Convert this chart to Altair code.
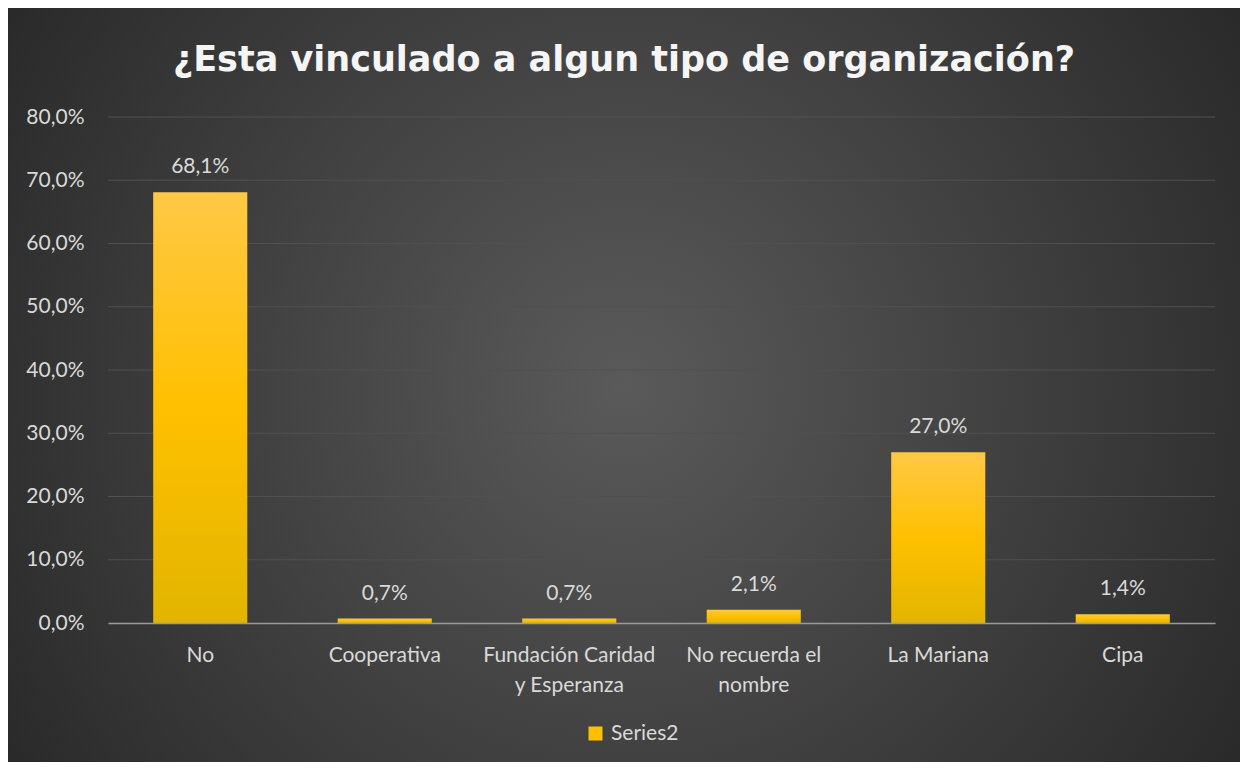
import altair as alt
import pandas as pd

categories = ["No", "Cooperativa", "Fundación Caridad y Esperanza", "No recuerda el nombre", "La Mariana", "Cipa"]
values = [68.1, 0.7, 0.7, 2.1, 27.0, 1.4]
grid_values = [10, 20, 30, 40, 50, 60, 70, 80]
series_name = "Series2"
title_text = "¿Esta vinculado a algun tipo de organización?"

df = pd.DataFrame({"cat": categories, "val": values})
grid_df = pd.DataFrame({"val": grid_values})
bg_df = pd.DataFrame({"a": [0]})

W, H = 1107, 506
PL, PT = 100, 109
TOTAL_W, TOTAL_H = 1232, 754

LABEL_COLOR = "#d9d9d9"
FONT = "Lato"
FS = 21

x_axis = alt.Axis(
    title=None, labelAngle=0, labelFont=FONT, labelFontSize=FS, labelColor=LABEL_COLOR,
    labelPadding=21, labelLineHeight=30, ticks=False, domainColor="#9a9a9a", domainWidth=1.5,
    grid=False, zindex=1, labelBaseline="top",
    labelExpr="datum.label == 'Fundación Caridad y Esperanza' ? ['Fundación Caridad', 'y Esperanza'] : "
              "datum.label == 'No recuerda el nombre' ? ['No recuerda el', 'nombre'] : datum.label",
)
y_axis = alt.Axis(
    title=None, values=[0, 10, 20, 30, 40, 50, 60, 70, 80], labelFont=FONT, labelFontSize=FS,
    labelColor=LABEL_COLOR, labelPadding=24, ticks=False, domain=False, grid=False, zindex=1,
    labelExpr="replace(format(datum.value, '.1f'), '.', ',') + '%'",
)
x_scale = alt.Scale(domain=categories, paddingInner=0.49, paddingOuter=0.245)
y_scale = alt.Scale(domain=[0, 80], nice=False)


def xe():
    return alt.X("cat:N", sort=categories, scale=x_scale, axis=x_axis)


def ye(field="val:Q"):
    return alt.Y(field, scale=y_scale, axis=y_axis)


bg = alt.Chart(bg_df).mark_rect(
    fill={
        "gradient": "radial",
        "x1": 0.5, "y1": 0.5, "r1": 0,
        "x2": 0.5, "y2": 0.5, "r2": 0.62,
        "stops": [
            {"offset": 0, "color": "#5a5a5a"},
            {"offset": 1, "color": "#272727"},
        ],
    }
).encode(
    x=alt.value(-PL), x2=alt.value(TOTAL_W - PL),
    y=alt.value(-PT), y2=alt.value(TOTAL_H - PT),
)

grid = alt.Chart(grid_df).mark_rule(color="#505050", strokeWidth=1).encode(y=ye())

bars = alt.Chart(df).mark_bar(
    fill={
        "gradient": "linear",
        "x1": 0, "y1": 0, "x2": 0, "y2": 1,
        "stops": [
            {"offset": 0, "color": "#ffc845"},
            {"offset": 0.5, "color": "#ffc000"},
            {"offset": 1, "color": "#e2b500"},
        ],
    }
).encode(x=xe(), y=ye())

labels = alt.Chart(df).mark_text(
    font=FONT, fontSize=FS, color=LABEL_COLOR, baseline="alphabetic", dy=-19
).encode(
    x=xe(), y=ye(), text=alt.Text("lbl:N"),
).transform_calculate(
    lbl="replace(format(datum.val, '.1f'), '.', ',') + '%'"
)

legend_layer = alt.Chart(df).mark_bar().encode(
    color=alt.Color(
        "s:N",
        scale=alt.Scale(domain=[series_name], range=["#ffc000"]),
        legend=alt.Legend(
            title=None, orient="none", legendX=477, legendY=606, symbolType="square",
            symbolSize=196, symbolStrokeWidth=0, labelFont=FONT, labelFontSize=FS,
            labelColor=LABEL_COLOR, labelOffset=5, padding=0,
        ),
    ),
    x=xe(), y=ye(),
).transform_calculate(s="'" + series_name + "'").transform_filter("false")

chart = alt.layer(bg, grid, bars, labels, legend_layer).properties(
    width=W, height=H,
    autosize=alt.AutoSizeParams(type="none"),
    padding={"left": PL, "top": PT, "right": TOTAL_W - PL - W, "bottom": TOTAL_H - PT - H},
    title=alt.Title(
        title_text, font="DejaVu Sans", fontSize=35, fontWeight="bold", color="#f5f5f5",
        anchor="middle", frame="bounds", offset=-98, baseline="alphabetic",
    ),
).configure(background="#2a2a2a").configure_view(stroke=None)

chart.save("out.html", embed_options={"renderer": "svg", "actions": False})
